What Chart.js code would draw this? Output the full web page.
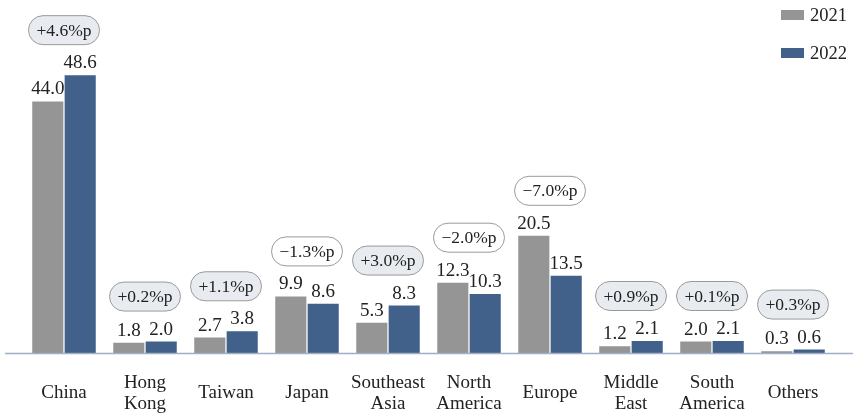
<!DOCTYPE html>
<html>
<head>
<meta charset="utf-8">
<script src="https://cdn.jsdelivr.net/npm/chart.js@4.4.1/dist/chart.umd.min.js"></script>
<style>
  html, body { margin: 0; padding: 0; background: #fff; }
  #wrap { width: 853px; height: 414px; position: relative; }
</style>
</head>
<body>
<div id="wrap"><canvas id="regionChart"></canvas></div>
<script>
const regions = [['China'], ['Hong', 'Kong'], ['Taiwan'], ['Japan'], ['Southeast', 'Asia'],
    ['North', 'America'], ['Europe'], ['Middle', 'East'], ['South', 'America'], ['Others']];
const share2021 = [44.0, 1.8, 2.7, 9.9, 5.3, 12.3, 20.5, 1.2, 2.0, 0.3];
const share2022 = [48.6, 2.0, 3.8, 8.6, 8.3, 10.3, 13.5, 2.1, 2.1, 0.6];
const changeLabels = ['+4.6%p', '+0.2%p', '+1.1%p', '\u22121.3%p', '+3.0%p',
    '\u22122.0%p', '\u22127.0%p', '+0.9%p', '+0.1%p', '+0.3%p'];
const seriesNames = ['2021', '2022'];

const grayColor = '#959595';
const blueColor = '#41608a';
const fontFamily = '"Liberation Serif", "DejaVu Serif", serif';

// desenha rótulos, pílulas de variação, linha do eixo e legenda
const overlayPlugin = {
    id: 'overlay',
    afterDatasetsDraw(chart) {
        const ctx = chart.ctx;
        const xScale = chart.scales.x;
        const yScale = chart.scales.y;
        const meta0 = chart.getDatasetMeta(0);
        const meta1 = chart.getDatasetMeta(1);

        ctx.save();
        // linha do eixo
        ctx.strokeStyle = '#9fb0c6';
        ctx.lineWidth = 1.5;
        ctx.beginPath();
        ctx.moveTo(5, yScale.bottom + 0.5);
        ctx.lineTo(chart.width, yScale.bottom + 0.5);
        ctx.stroke();

        // valores
        ctx.fillStyle = '#222';
        ctx.font = '19px ' + fontFamily;
        ctx.textAlign = 'center';
        ctx.textBaseline = 'alphabetic';
        [meta0, meta1].forEach((meta, d) => {
            meta.data.forEach((bar, i) => {
                const v = chart.data.datasets[d].data[i];
                ctx.fillText(v.toFixed(1), bar.x, bar.y - 7);
            });
        });

        // pílulas
        ctx.font = '17.5px ' + fontFamily;
        ctx.textBaseline = 'middle';
        changeLabels.forEach((txt, i) => {
            const top = Math.min(meta0.data[i].y, meta1.data[i].y);
            const cx = xScale.getPixelForValue(i);
            const cy = top - 45;
            const w = 71, h = 29, r = 14.5;
            ctx.beginPath();
            ctx.roundRect(cx - w / 2, cy - h / 2, w, h, r);
            ctx.fillStyle = txt.startsWith('+') ? '#e8ebf0' : '#ffffff';
            ctx.fill();
            ctx.strokeStyle = '#9a9a9a';
            ctx.lineWidth = 1;
            ctx.stroke();
            ctx.fillStyle = '#222';
            ctx.fillText(txt, cx, cy + 1);
        });

        // legenda
        ctx.font = '18.5px ' + fontFamily;
        ctx.textAlign = 'left';
        [grayColor, blueColor].forEach((c, k) => {
            const y = 15 + k * 38;
            ctx.fillStyle = c;
            ctx.fillRect(781, y - 5, 23, 10);
            ctx.fillStyle = '#222';
            ctx.fillText(seriesNames[k], 810, y + 1);
        });
        ctx.restore();
    }
};

new Chart(document.getElementById('regionChart'), {
    type: 'bar',
    data: {
        labels: regions,
        datasets: [
            { label: seriesNames[0], data: share2021, backgroundColor: grayColor },
            { label: seriesNames[1], data: share2022, backgroundColor: blueColor }
        ]
    },
    options: {
        responsive: true,
        maintainAspectRatio: false,
        animation: false,
        categoryPercentage: 0.8,
        barPercentage: 0.96,
        layout: { padding: { left: 23.5, right: 19.5, top: 10, bottom: 0 } },
        scales: {
            x: {
                grid: { display: false, drawTicks: false },
                border: { display: false },
                afterFit(scale) { scale.height = 61; },
                ticks: {
                    color: '#222',
                    font: { family: fontFamily, size: 19, lineHeight: 1.1 },
                    padding: 30,
                    crossAlign: 'center',
                    maxRotation: 0,
                    autoSkip: false
                }
            },
            y: {
                display: false,
                min: 0,
                max: 60
            }
        },
        plugins: {
            legend: { display: false },
            tooltip: { enabled: false }
        }
    },
    plugins: [overlayPlugin]
});
</script>
</body>
</html>
